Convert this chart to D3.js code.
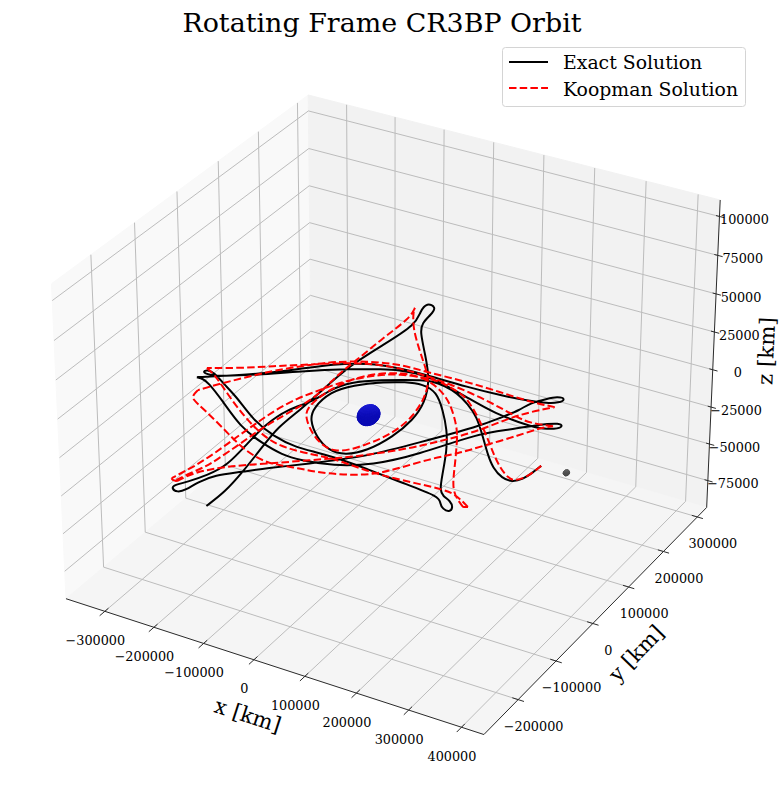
<!DOCTYPE html>
<html>
<head>
<meta charset="utf-8">
<script src="https://cdn.jsdelivr.net/npm/d3@7"></script>
<style>
body { margin: 0; background: #fff; }
text { font-family: "DejaVu Serif", serif; fill: #000; }
</style>
</head>
<body>
<svg id="chart" width="780" height="793"></svg>
<script>
const titleText = "Rotating Frame CR3BP Orbit";
const legendLabels = ["Exact Solution", "Koopman Solution"];
const legendColors = ["#000000", "#ff0000"];

const xTicks = [-300000, -200000, -100000, 0, 100000, 200000, 300000, 400000];
const yTicks = [-200000, -100000, 0, 100000, 200000, 300000];
const zTicks = [-75000, -50000, -25000, 0, 25000, 50000, 75000, 100000];

const xLimits = [-380000, 442000];
const yLimits = [-288000, 328000];
const zLimits = [-93500, 110500];

// orbit points as [x, y] in thousands of km. a single view can't separate y from z, so z is taken as 0
const exactOrbit = [
    [337,-1],[335,-22],[331,-41],[320,-54],[299,-52],[270,-36],[242,-11],[206,25],[164,66],
    [129,89],[94,107],[64,115],[36,118],[16,112],[-3,104],[-40,88],[-86,62],[-102,31],
    [-107,-7],[-131,-38],[-137,-88],[-130,-138],[-121,-199],[-133,-230],[-151,-258],[-164,-271],[-163,-280],
    [-147,-285],[-139,-275],[-135,-251],[-123,-226],[-88,-202],[-62,-180],[3,-138],[24,-120],[67,-90],
    [119,-30],[184,48],[200,78],[217,109],[220,131],[239,152],[251,164],[268,164],[263,150],
    [246,142],[217,136],[168,130],[99,127],[24,128],[-35,127],[-94,117],[-144,92],[-185,59],
    [-239,20],[-293,-9],[-314,-21],[-326,-27],[-313,-27],[-300,-31],[-246,-61],[-170,-108],[-109,-129],
    [-59,-141],[-24,-141],[34,-132],[90,-105],[138,-56],[195,32],[234,58],[266,86],[280,95],
    [295,104],[307,101],[303,91],[288,84],[268,78],[182,85],[116,104],[32,125],[-4,125],
    [-32,122],[-59,113],[-109,92],[-181,54],[-238,18],[-293,-9],[-310,-14],[-328,-12],[-325,-3],
    [-306,-6],[-276,-23],[-229,-45],[-163,-85],[-101,-108],[-54,-116],[-16,-114],[19,-113],[88,-117],
    [157,-124],[239,-130],[248,-143],[262,-154],[276,-156],[275,-145],[260,-132],[242,-127],[228,-116],
    [210,-87],[174,-26],[141,18],[102,59],[62,96],[28,105],[-3,98],[-33,85],[-76,57],
    [-98,27],[-95,-20],[-79,-48],[-40,-81],[0,-102],[33,-102],[58,-79],[73,-32],[74,18],
    [63,63],[31,119],[-20,174],[-69,225],[-82,247],[-84,274],[-88,295],[-113,301],[-106,273],
    [-89,241],[-102,169],[-116,101],[-113,20],[-111,-33],[-114,-84],[-102,-137],[-87,-204],[-79,-254],
    [-82,-294]
];

const koopmanOrbit = [
    [337,-1],[334,-34],[322,-50],[308,-48],[280,-31],[246,-3],[212,28],[166,66],[123,98],
    [99,109],[56,121],[25,122],[-25,113],[-58,96],[-90,67],[-106,44],[-121,17],[-136,-8],
    [-148,-49],[-153,-92],[-157,-132],[-161,-180],[-167,-219],[-180,-259],[-176,-263],[-167,-262],[-157,-232],
    [-119,-199],[-69,-171],[-7,-133],[31,-111],[65,-88],[125,-39],[149,-11],[168,9],[193,43],
    [215,85],[235,111],[264,138],[219,134],[157,137],[91,139],[19,135],[-42,136],[-98,121],
    [-148,97],[-171,80],[-221,40],[-249,7],[-277,-24],[-300,-55],[-298,-75],[-278,-84],[-220,-109],
    [-162,-137],[-116,-157],[-72,-167],[-48,-165],[-14,-159],[18,-156],[63,-145],[107,-126],[135,-94],
    [167,-52],[195,-28],[220,5],[257,53],[276,82],[292,94],[253,86],[224,91],[159,108],
    [90,120],[26,126],[-35,127],[-94,117],[-146,94],[-192,68],[-229,49],[-275,23],[-328,0],
    [-303,-10],[-246,-46],[-181,-84],[-114,-116],[-67,-125],[-11,-121],[20,-116],[92,-122],[154,-120],
    [238,-111],[265,-119],[295,-134],[288,-137],[248,-113],[213,-58],[173,2],[151,31],[101,80],
    [64,103],[28,118],[-21,121],[-75,91],[-97,51],[-106,11],[-104,-24],[-91,-45],[-45,-83],
    [15,-109],[48,-66],[67,-24],[69,25],[53,77],[37,106],[20,129],[-33,177],[-87,229],
    [-116,268],[-121,279],[-110,251],[-115,186],[-115,117],[-118,70],[-109,7],[-123,-44],[-136,-96],
    [-140,-145],[-147,-196],[-151,-215],[-162,-237],[-170,-260]
];

// sharp turning points of each orbit, the curve keeps a corner there instead of rounding it off
const exactTurns = ["-326,-27"];
const koopmanTurns = ["-180,-259", "-167,-262", "264,138", "-300,-55", "292,94", "-328,0",
    "295,-134", "288,-137", "-121,279"];

const earthCenter = [0, 0, 0];
const moonCenter = [384400, 0, 0];
const earthRadii = [18000, 18000, 5400];
const moonRadii = [4900, 4900, 1470];

// same camera as a default mplot3d view: elev 30, azim -60, dist 10
const boxX = 0.5715, boxZ = 0.4286;
const centerX = 392, centerY = 400, viewScale = 419;
const right = [Math.cos(Math.PI / 6), 0.5, 0];
const up = [-0.25, Math.sqrt(3) / 4, Math.cos(Math.PI / 6)];
const toEye = [Math.sqrt(3) / 4, -0.75, 0.5];

const xScale = d3.scaleLinear().domain(xLimits).range([-boxX, boxX]);
const yScale = d3.scaleLinear().domain(yLimits).range([-boxX, boxX]);
const zScale = d3.scaleLinear().domain(zLimits).range([-boxZ, boxZ]);

const dot = (a, b) => a[0] * b[0] + a[1] * b[1] + a[2] * b[2];

function project(x, y, z) {
    const p = [xScale(x), yScale(y), zScale(z)];
    const f = 10 / (10 - dot(p, toEye));
    return [centerX + viewScale * dot(p, right) * f, centerY - viewScale * dot(p, up) * f];
}

const svg = d3.select("#chart");
const [x0, x1] = xLimits, [y0, y1] = yLimits, [z0, z1] = zLimits;

function polyline(group, pts, stroke, width) {
    group.append("path")
        .attr("d", d3.line()(pts.map(p => project(p[0], p[1], p[2]))))
        .attr("fill", "none")
        .attr("stroke", stroke)
        .attr("stroke-width", width);
}

// Panes
const panes = [
    { fill: "#f9f9f9", pts: [[x0, y0, z0], [x0, y1, z0], [x0, y1, z1], [x0, y0, z1]] },
    { fill: "#f2f2f2", pts: [[x0, y1, z0], [x1, y1, z0], [x1, y1, z1], [x0, y1, z1]] },
    { fill: "#f5f5f5", pts: [[x0, y0, z0], [x1, y0, z0], [x1, y1, z0], [x0, y1, z0]] }
];
svg.append("g").selectAll("polygon")
    .data(panes)
    .enter().append("polygon")
    .attr("points", d => d.pts.map(p => project(p[0], p[1], p[2]).join(",")).join(" "))
    .attr("fill", d => d.fill)
    .attr("stroke", d => d.fill);

// Draw grid
const grid = svg.append("g");
xTicks.forEach(t => polyline(grid, [[t, y0, z0], [t, y1, z0], [t, y1, z1]], "#bcbcbc", 1));
yTicks.forEach(t => polyline(grid, [[x1, t, z0], [x0, t, z0], [x0, t, z1]], "#bcbcbc", 1));
zTicks.forEach(t => polyline(grid, [[x0, y0, t], [x0, y1, t], [x1, y1, t]], "#bcbcbc", 1));

// Axis lines and ticks
const axes = svg.append("g");
polyline(axes, [[x0, y0, z0], [x1, y0, z0], [x1, y1, z0], [x1, y1, z1]], "#2b2b2b", 1);
xTicks.forEach(t => polyline(axes, [[t, y0 - 12000, z0], [t, y0 + 8500, z0]], "#2b2b2b", 1));
yTicks.forEach(t => polyline(axes, [[x1 - 11000, t, z0], [x1 + 11000, t, z0]], "#2b2b2b", 1));
zTicks.forEach(t => polyline(axes, [[x1 - 6600, y1, t], [x1 + 9400, y1, t]], "#2b2b2b", 1));

const fmtTick = t => String(t).replace("-", "\u2212");

function tickLabels(values, anchor, dx, dy) {
    svg.append("g").selectAll("text")
        .data(values)
        .enter().append("text")
        .attr("x", d => anchor(d)[0] + dx)
        .attr("y", d => anchor(d)[1] + dy)
        .attr("dy", "0.36em")
        .attr("text-anchor", "middle")
        .attr("font-size", 12.8)
        .text(fmtTick);
}
tickLabels(xTicks, t => project(t, y0, z0), -9.5, 29);
tickLabels(yTicks, t => project(x1, t, z0), 15.5, 26.5);
tickLabels(zTicks, t => project(x1, y1, t), 25, 3);

// Axis titles
const axisTitles = [
    { label: "x [km]", x: 248, y: 715, angle: 18 },
    { label: "y [km]", x: 636, y: 653, angle: -46 },
    { label: "z [km]", x: 766, y: 351, angle: -87.6 }
];
svg.append("g").selectAll("text")
    .data(axisTitles)
    .enter().append("text")
    .attr("transform", d => `translate(${d.x},${d.y}) rotate(${d.angle})`)
    .attr("dy", "0.36em")
    .attr("text-anchor", "middle")
    .attr("font-size", 21.3)
    .text(d => d.label);

// Earth and moon as small ellipsoid meshes
function drawBody(center, radii, shade) {
    const lats = d3.range(-90, 90, 15), lons = d3.range(0, 360, 15);
    const point = (lat, lon) => {
        const a = lat * Math.PI / 180, b = lon * Math.PI / 180;
        return [
            center[0] + radii[0] * Math.cos(a) * Math.cos(b),
            center[1] + radii[1] * Math.cos(a) * Math.sin(b),
            center[2] + radii[2] * Math.sin(a)
        ];
    };
    const quads = [];
    lats.forEach(lat => lons.forEach(lon => {
        const a = (lat + 7.5) * Math.PI / 180, b = (lon + 7.5) * Math.PI / 180;
        const normal = [Math.cos(a) * Math.cos(b), Math.cos(a) * Math.sin(b), Math.sin(a)];
        quads.push({
            pts: [point(lat, lon), point(lat, lon + 15), point(lat + 15, lon + 15), point(lat + 15, lon)],
            depth: dot(normal, toEye),
            light: Math.max(0, dot(normal, up))
        });
    }));
    quads.sort((a, b) => a.depth - b.depth);
    const g = svg.append("g");
    g.selectAll("polygon")
        .data(quads)
        .enter().append("polygon")
        .attr("points", d => d.pts.map(p => project(p[0], p[1], p[2]).join(",")).join(" "))
        .attr("fill", d => shade(d.light))
        .attr("stroke", d => shade(d.light))
        .attr("stroke-width", 0.5);
}
drawBody(earthCenter, earthRadii, d3.scaleLinear().domain([0, 1]).range(["#0a0ab4", "#1c1cd2"]));
drawBody(moonCenter, moonRadii, d3.scaleLinear().domain([0, 1]).range(["#4e4e4e", "#666666"]));

// Orbits, smoothed between turning points
const orbitLine = d3.line()
    .x(d => project(d[0] * 1000, d[1] * 1000, 0)[0])
    .y(d => project(d[0] * 1000, d[1] * 1000, 0)[1])
    .curve(d3.curveBasis);

function orbitPath(points, turns) {
    const parts = [];
    let part = [];
    points.forEach(p => {
        part.push(p);
        if (turns.includes(p.join(","))) {
            parts.push(part);
            part = [p];
        }
    });
    parts.push(part);
    return parts.map(orbitLine).join("");
}

svg.append("path")
    .attr("d", orbitPath(exactOrbit, exactTurns))
    .attr("fill", "none")
    .attr("stroke", legendColors[0])
    .attr("stroke-width", 2)
    .attr("stroke-linejoin", "round");
svg.append("path")
    .attr("d", orbitPath(koopmanOrbit, koopmanTurns))
    .attr("fill", "none")
    .attr("stroke", legendColors[1])
    .attr("stroke-width", 2)
    .attr("stroke-dasharray", "7.5,3.2");

// Title
svg.append("text")
    .attr("x", 382)
    .attr("y", 22)
    .attr("dy", "0.36em")
    .attr("text-anchor", "middle")
    .attr("font-size", 26.9)
    .text(titleText);

// Legend
const legend = svg.append("g");
legend.append("rect")
    .attr("x", 502.5).attr("y", 47.5)
    .attr("width", 243).attr("height", 59)
    .attr("rx", 3)
    .attr("fill", "#fff").attr("fill-opacity", 0.85)
    .attr("stroke", "#d4d4d4");
legendLabels.forEach((label, i) => {
    const y = 62 + i * 26;
    legend.append("line")
        .attr("x1", 509).attr("x2", 548)
        .attr("y1", y).attr("y2", y)
        .attr("stroke", legendColors[i])
        .attr("stroke-width", 2)
        .attr("stroke-dasharray", i ? "7.5,3.2" : null);
    legend.append("text")
        .attr("x", 563).attr("y", 62.5 + i * 27)
        .attr("dy", "0.36em")
        .attr("font-size", 18.85)
        .text(label);
});
</script>
</body>
</html>
